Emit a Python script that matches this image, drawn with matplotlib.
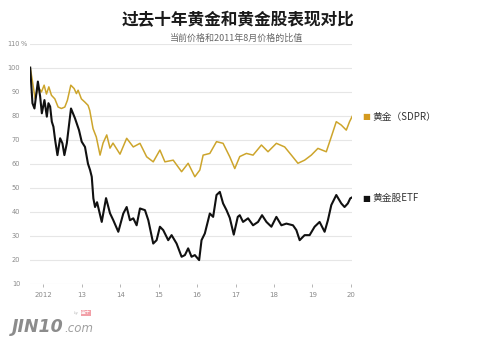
import matplotlib
matplotlib.use('Agg')
import matplotlib.pyplot as plt

plt.rcParams['font.family'] = ['Noto Sans CJK SC', 'DejaVu Sans']

# values, % of Aug 2011 price
gold_t = [2011.655, 2011.707, 2011.784, 2011.862, 2011.948, 2012.018, 2012.078, 2012.140,
          2012.208, 2012.296, 2012.382, 2012.468, 2012.556, 2012.623, 2012.712, 2012.798,
          2012.858, 2012.902, 2012.987, 2013.075, 2013.161, 2013.205, 2013.291, 2013.376,
          2013.473, 2013.551, 2013.647, 2013.732, 2013.810, 2013.992,
          2014.166, 2014.338, 2014.512, 2014.686, 2014.857, 2015.031, 2015.161, 2015.377,
          2015.595, 2015.766, 2015.940, 2016.070, 2016.156, 2016.330, 2016.504, 2016.675,
          2016.849, 2016.979, 2017.109, 2017.283, 2017.455, 2017.673, 2017.844, 2018.062,
          2018.278, 2018.452, 2018.623, 2018.797, 2018.971, 2019.143, 2019.361, 2019.491,
          2019.621, 2019.751, 2019.881, 2019.966, 2020.044]
gold_v = [100, 95, 87, 92, 89.9, 92.7, 89, 92,
          88.5, 87, 83.6, 83, 83.6, 86.4, 92.7, 91.3,
          89.2, 90.6, 87, 85.7, 84.3, 82.2, 74.6, 71.1,
          63.6, 68.6, 72, 66.5, 68.6, 64,
          70.6, 67, 68.5, 62.9, 60.8, 65.7, 60.8, 61.5,
          56.7, 60.2, 54.6, 57.4, 63.6, 64.3, 69.2, 68.5,
          62.9, 58, 63, 64.3, 63.6, 67.8, 65, 68.5,
          67, 63.6, 60.2, 61.5, 63.6, 66.4, 65, 71.2,
          77.5, 76.1, 74, 77.5, 80]

gdx_t = [2011.655, 2011.714, 2011.766, 2011.855, 2011.914, 2011.958, 2012.026, 2012.088,
         2012.130, 2012.174, 2012.218, 2012.260, 2012.304, 2012.364, 2012.434, 2012.494,
         2012.545, 2012.608, 2012.717, 2012.821, 2012.925, 2012.995, 2013.081, 2013.159,
         2013.213, 2013.257, 2013.299, 2013.343, 2013.395, 2013.517, 2013.629, 2013.732,
         2013.818, 2013.948, 2014.078, 2014.166, 2014.251, 2014.338, 2014.425, 2014.512,
         2014.642, 2014.729, 2014.857, 2014.945, 2015.031, 2015.117, 2015.247, 2015.335,
         2015.465, 2015.595, 2015.681, 2015.766, 2015.854, 2015.940, 2016.052, 2016.114,
         2016.200, 2016.330, 2016.416, 2016.504, 2016.590, 2016.675, 2016.764, 2016.849,
         2016.953, 2017.057, 2017.109, 2017.195, 2017.325, 2017.455, 2017.585, 2017.689,
         2017.803, 2017.932, 2018.062, 2018.192, 2018.322, 2018.494, 2018.582, 2018.668,
         2018.797, 2018.927, 2019.057, 2019.187, 2019.317, 2019.403, 2019.491, 2019.621,
         2019.751, 2019.836, 2019.922, 2019.984, 2020.031]
gdx_v = [100, 85.2, 83, 94.2, 88, 81, 86.5, 79.6,
         85.2, 83.8, 77.5, 75.4, 69.9, 63.6, 70.6, 68.5,
         63.6, 68.5, 83, 78.9, 74, 69.2, 67, 60,
         57.4, 54.6, 45.6, 42, 44, 35.8, 45.7, 39.4,
         36.5, 31.7, 39.3, 42, 36.5, 37.3, 34.4, 41.4,
         40.7, 36.5, 26.8, 28.2, 33.8, 32.4, 28.2, 30.3,
         26.8, 21.3, 22, 24.8, 21.3, 22, 19.9, 28.2,
         31, 39.3, 37.9, 47, 48.3, 43.5, 40.7, 37.5,
         30.5, 37.9, 38.6, 35.8, 37.3, 34.4, 35.8, 38.6,
         35.8, 33.8, 37.9, 34.4, 35.1, 34.4, 32.4, 28.2,
         30.3, 30.3, 33.8, 35.8, 31.7, 36.5, 42.8, 47,
         43.5, 42, 43.5, 45.6, 46]

years = [2012, 2013, 2014, 2015, 2016, 2017, 2018, 2019, 2020]
year_labels = ['2012', '13', '14', '15', '16', '17', '18', '19', '20']
y_ticks = [10, 20, 30, 40, 50, 60, 70, 80, 90, 100, 110]
y_labels = ['10', '20', '30', '40', '50', '60', '70', '80', '90', '100', '110']

gold_color = '#cda52c'
legend_gold = '#d49a1e'
gray = '#8a8a8a'

fig = plt.figure(figsize=(5, 3.38), dpi=100)
fig.patch.set_facecolor('white')
ax = fig.add_axes([0.06, 0.16, 0.644, 0.711])

ax.plot(gold_t, gold_v, color=gold_color, lw=1.1, zorder=3)
ax.plot(gdx_t, gdx_v, color='#111111', lw=1.5, zorder=4)

ax.set_xlim(2011.65, 2020.03)
ax.set_ylim(10, 110)
ax.set_yticks(y_ticks)
ax.set_yticklabels(y_labels, fontsize=4.8, color=gray, family='DejaVu Sans')
ax.set_xticks(years)
ax.set_xticklabels(year_labels, fontsize=5, color=gray, family='DejaVu Sans')
ax.tick_params(axis='y', length=0, pad=7)
ax.tick_params(axis='x', length=2.5, width=0.6, color='#aaaaaa', pad=3, direction='out')
ax.grid(axis='y', color='#e6e6e6', lw=0.8)
ax.set_axisbelow(True)
for s in ax.spines.values():
    s.set_visible(False)

def fpos(x, y):
    return x / 500, 1 - y / 338

# % after top label
fig.text(*fpos(20.2, 44), '%', fontsize=4.8, color=gray, family='DejaVu Sans', va='center', ha='left')

fig.text(*fpos(238, 20), '过去十年黄金和黄金股表现对比', fontsize=12, fontweight='bold',
         color='#1a1a1a', ha='center', va='center')
fig.text(*fpos(237, 38), '当前价格和2011年8月价格的比值', fontsize=6.5, color='#666666',
         ha='center', va='center')

# legend
fig.text(*fpos(366, 117), '■', fontsize=6, color=legend_gold, ha='center', va='center', family='DejaVu Sans')
fig.text(*fpos(372, 117), '黄金（SDPR）', fontsize=7, color='#333333', ha='left', va='center')
fig.text(*fpos(366, 198), '■', fontsize=6, color='#111111', ha='center', va='center', family='DejaVu Sans')
fig.text(*fpos(372, 198), '黄金股ETF', fontsize=7, color='#333333', ha='left', va='center')

# logo
fig.text(*fpos(12, 327), 'JIN10', fontsize=12.5, fontweight='bold', style='italic', color='#8c8c8c',
         ha='left', va='center', family='DejaVu Sans')
fig.text(*fpos(64, 328), '.com', fontsize=8.5, style='italic', color='#a0a0a0',
         ha='left', va='center', family='DejaVu Sans')
fig.text(*fpos(74, 313), 'by', fontsize=3, style='italic', color='#c0c0c0', ha='left', va='center',
         family='DejaVu Sans')
fig.text(*fpos(81, 313), '金十', fontsize=3.5, color='white', ha='left', va='center',
         bbox=dict(boxstyle='square,pad=0.1', fc='#f2a0a8', ec='none'))

fig.savefig('out.png', dpi=100, facecolor='white')
